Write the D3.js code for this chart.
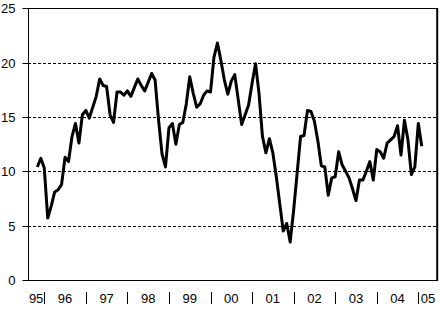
<!DOCTYPE html>
<html>
<head>
<meta charset="utf-8">
<script src="https://cdn.jsdelivr.net/npm/d3@7"></script>
<style>
  html, body { margin: 0; padding: 0; background: #fff; }
  svg { display: block; }
  text { font-family: "Liberation Sans", Arial, sans-serif; font-size: 13px; fill: #000; }
</style>
</head>
<body>
<svg id="chart" width="440" height="310"></svg>
<script>
// ---- data ----
// month index: 0 = Jan 1995; first observation Nov 1995
const firstMonth = 10;
const values = [
  10.4, 11.2,
  10.3, 5.7, 6.8, 8.1, 8.3, 8.8, 11.3, 10.9, 13.2, 14.4, 12.6, 15.2,
  15.6, 14.9, 15.9, 16.9, 18.5, 17.9, 17.8, 15.2, 14.5, 17.3, 17.3, 17.0,
  17.4, 16.9, 17.7, 18.5, 17.9, 17.4, 18.2, 19.0, 18.4, 14.7, 11.6, 10.4,
  14.0, 14.4, 12.5, 14.3, 14.5, 16.2, 18.7, 17.2, 15.9, 16.2, 17.0, 17.4,
  17.3, 20.5, 21.8, 20.2, 18.4, 17.1, 18.3, 18.9, 16.6, 14.3, 15.2, 16.1,
  18.1, 19.9, 17.2, 13.2, 11.7, 13.0, 11.7, 9.5, 7.0, 4.5, 5.2, 3.5,
  6.4, 9.8, 13.2, 13.3, 15.6, 15.5, 14.6, 12.8, 10.5, 10.4, 7.8, 9.4,
  9.5, 11.8, 10.6, 10.0, 9.4, 8.4, 7.3, 9.2, 9.2, 10.0, 10.9, 9.2,
  12.0, 11.8, 11.2, 12.6, 12.9, 13.2, 14.2, 11.5, 14.7, 12.9, 9.7, 10.4,
  14.4, 12.3
];
const yearLabels = ["95","96","97","98","99","00","01","02","03","04","05"];
const yTicks = [0, 5, 10, 15, 20, 25];
const gridValues = [5, 10, 15, 20];
const monthDomain = [7.3, 125.6];

// ---- layout ----
const pL = 28, pR = 437.7, pT = 8.3, pB = 280;
const svg = d3.select("#chart");

const x = d3.scaleLinear().domain(monthDomain).range([pL, pR]);
const y = d3.scaleLinear().domain([0, 25]).range([pB, pT]);

// gridlines
svg.append("g").selectAll("line").data(gridValues).join("line")
  .attr("x1", pL).attr("x2", pR)
  .attr("y1", d => Math.round(y(d)) + 0.5).attr("y2", d => Math.round(y(d)) + 0.5)
  .attr("stroke", "#000").attr("stroke-width", 1)
  .attr("stroke-dasharray", "3,2");

// y axis
const yAxis = d3.axisLeft(y).tickValues(yTicks).tickSize(6).tickPadding(7)
  .tickFormat(d3.format("d"));
const gy = svg.append("g").attr("transform", `translate(${pL + 0.5},0)`).call(yAxis);
gy.selectAll(".tick").attr("transform", d => `translate(0,${Math.round(y(d)) + 0.5})`);
gy.select(".domain").remove();
gy.selectAll("text").style("font-family", "Liberation Sans, Arial, sans-serif")
  .style("font-size", "13px").attr("fill", "#000");
gy.selectAll("line").attr("stroke", "#000");

// frame
svg.append("line").attr("x1", pL + 0.5).attr("x2", pL + 0.5)
  .attr("y1", Math.round(pT) + 0.5).attr("y2", pB + 0.5)
  .attr("stroke", "#000").attr("stroke-width", 1);
svg.append("line").attr("x1", pL).attr("x2", pR)
  .attr("y1", pB + 0.5).attr("y2", pB + 0.5)
  .attr("stroke", "#000").attr("stroke-width", 1);
svg.append("line").attr("x1", pL).attr("x2", pR)
  .attr("y1", Math.round(pT) + 0.5).attr("y2", Math.round(pT) + 0.5)
  .attr("stroke", "#000").attr("stroke-width", 1);
svg.append("line").attr("x1", pR - 0.5).attr("x2", pR - 0.5)
  .attr("y1", Math.round(pT)).attr("y2", pB + 1)
  .attr("stroke", "#000").attr("stroke-width", 2);

// x labels: year separators and centred year labels
const years = yearLabels.map((lab, i) => ({ lab, start: 12 * i, end: 12 * (i + 1) }));
const seps = years.slice(1).map(d => d.start);
svg.append("g").selectAll("line").data(seps).join("line")
  .attr("x1", d => Math.round(x(d)) + 0.5).attr("x2", d => Math.round(x(d)) + 0.5)
  .attr("y1", 292).attr("y2", 304)
  .attr("stroke", "#000").attr("stroke-width", 1);
svg.append("g").selectAll("text").data(years).join("text")
  .attr("x", d => (x(Math.max(d.start, monthDomain[0])) + x(Math.min(d.end, monthDomain[1]))) / 2)
  .attr("y", 298)
  .attr("text-anchor", "middle")
  .attr("dominant-baseline", "central")
  .text(d => d.lab);

// line
const series = values.map((v, i) => ({ m: firstMonth + i, v }));
svg.append("path").datum(series)
  .attr("fill", "none").attr("stroke", "#000").attr("stroke-width", 3)
  .attr("stroke-linejoin", "round").attr("stroke-linecap", "butt")
  .attr("d", d3.line().x(d => x(d.m)).y(d => y(d.v)));
</script>
</body>
</html>
